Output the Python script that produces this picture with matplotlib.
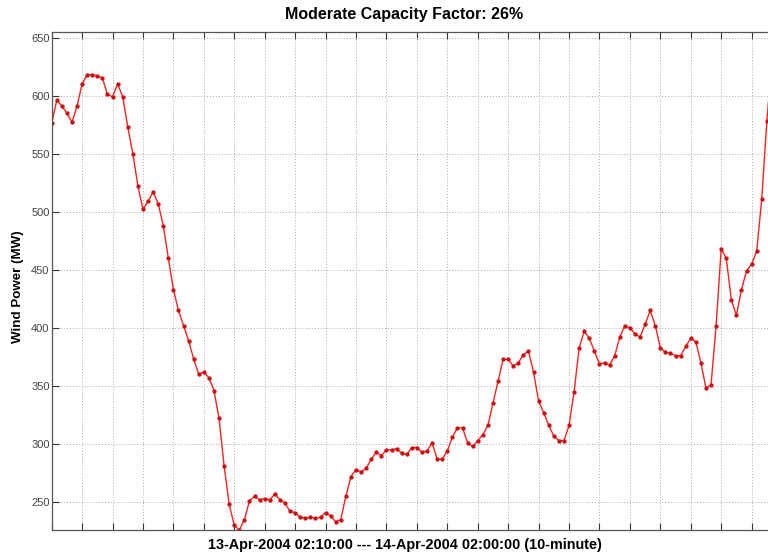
import numpy as np
import matplotlib.pyplot as plt

# wind power, 10-minute samples, 13-Apr-2004 02:10 .. 14-Apr-2004 02:00
wind_mw = [
    576, 596, 591, 585, 577, 591, 610, 618, 618, 617, 615, 601,
    599, 610, 599, 573, 550, 522, 502, 509, 517, 507, 488, 460,
    433, 415, 402, 389, 373, 360, 362, 357, 346, 322, 281, 248,
    230, 226, 235, 251, 255, 252, 253, 252, 257, 252, 249, 242,
    241, 237, 236, 237, 236, 237, 241, 238, 233, 235, 255, 272,
    278, 276, 279, 287, 293, 290, 295, 295, 296, 292, 291, 297,
    297, 293, 294, 301, 287, 287, 294, 306, 314, 314, 301, 298,
    303, 308, 316, 335, 354, 373, 373, 367, 370, 377, 380, 362,
    337, 327, 316, 307, 303, 303, 316, 345, 383, 397, 391, 380,
    369, 370, 368, 376, 392, 402, 400, 395, 392, 403, 415, 402,
    383, 379, 378, 376, 376, 384, 391, 388, 370, 348, 351, 402,
    468, 460, 424, 411, 433, 449, 455, 466, 511, 578, 630, 655,
]
y_ticks = [250, 300, 350, 400, 450, 500, 550, 600, 650]

plt.rcParams['font.family'] = ['Liberation Sans', 'DejaVu Sans']

fig = plt.figure(figsize=(7.68, 5.58), dpi=100)
ax = fig.add_axes([0.0673, 0.0502, 0.951, 0.893])

x = np.arange(len(wind_mw))
ax.plot(x, wind_mw, color='#ff2020', lw=1.0, marker='o', ms=2.1,
        mfc='#cc1010', mec='#cc1010')

ax.set_xlim(0, 144)
ax.set_ylim(226, 655)
ax.set_xticks(np.arange(0, 145, 6))
ax.set_xticklabels([])
ax.set_yticks(y_ticks)
ax.tick_params(direction='in', length=5, top=True, right=True,
               labelsize=8, labelcolor='#444444', color='#333333', pad=1.5)
ax.grid(True, ls=(0, (1, 2)), color='#aaaaaa', lw=0.7)
for s in ax.spines.values():
    s.set_color('#555555')
    s.set_linewidth(0.9)

fig.text(404 / 768, 1 - 14 / 558, 'Moderate Capacity Factor: 26%',
         ha='center', va='center', fontsize=11.5, fontweight='bold')
fig.text(405 / 768, 1 - 545 / 558,
         '13-Apr-2004 02:10:00 --- 14-Apr-2004 02:00:00 (10-minute)',
         ha='center', va='center', fontsize=10.4, fontweight='bold')
fig.text(18 / 768, 1 - 287 / 558, 'Wind Power (MW)', rotation=90,
         ha='center', va='center', fontsize=9.6, fontweight='bold')

fig.savefig('out.png', dpi=100)
